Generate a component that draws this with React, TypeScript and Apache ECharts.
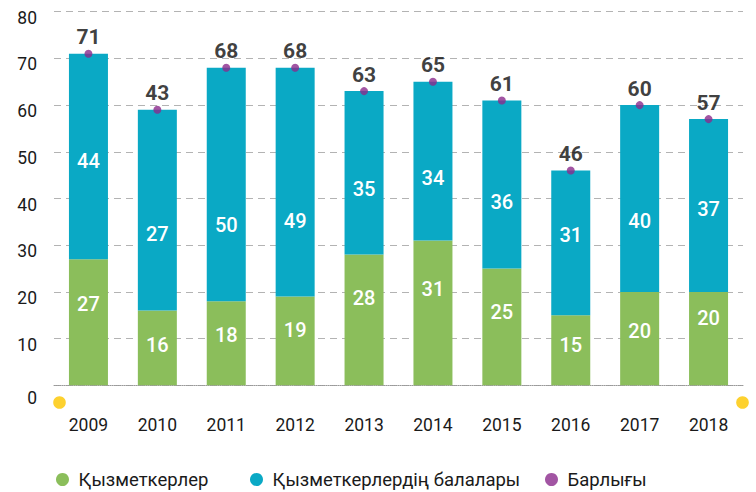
import React, { useEffect, useRef } from "react";
import * as echarts from "echarts";

const years = ["2009", "2010", "2011", "2012", "2013", "2014", "2015", "2016", "2017", "2018"];
const staff = [27, 16, 18, 19, 28, 31, 25, 15, 20, 20];
const childrenBar = [44, 43, 50, 49, 35, 34, 36, 31, 40, 37];
const childrenLabel = [44, 27, 50, 49, 35, 34, 36, 31, 40, 37];
const totalLabel = [71, 43, 68, 68, 63, 65, 61, 46, 60, 57];
const yTicks = [0, 10, 20, 30, 40, 50, 60, 70, 80];
const seriesNames = ["Қызметкерлер", "Қызметкерлердің балалары", "Барлығы"];

// label nudges (pixels) to mimic the reference's label placement
const staffLabelShift = [-18, -3, -8, -11, -22, -24, -15, -5, -8, -21];
const childLabelShift = [5, 24, 41, 39, 16, 17, 18, -8, 22, 3];

const GREEN = "#8BBE5B";
const CYAN = "#0AA9C5";
const PURPLE = "#8B2B8C";
const YELLOW = "#FDD12F";
const FONT = "Roboto";

export default function App() {
  const ref = useRef<HTMLDivElement>(null);
  useEffect(() => {
    if (!ref.current) return;
    const chart = echarts.init(ref.current, null, { renderer: "svg" });
    const totalsPos = staff.map((v, i) => v + childrenBar[i]);
    const legendText = { fontSize: 18.5, color: "#1a1a1a", fontFamily: FONT };
    chart.setOption({
      animation: false,
      textStyle: { fontFamily: FONT },
      grid: { left: 54, right: 13, top: 11.7, bottom: 106.7, containLabel: false },
      legend: [
        { data: [seriesNames[0]], left: 51, top: 465, icon: "circle", itemWidth: 22, itemHeight: 13, textStyle: legendText },
        { data: [seriesNames[1]], left: 245, top: 465, icon: "circle", itemWidth: 22, itemHeight: 13, textStyle: legendText },
        { data: [seriesNames[2]], left: 540, top: 465, icon: "circle", itemWidth: 22, itemHeight: 13, textStyle: legendText },
      ],
      xAxis: {
        type: "category",
        data: years,
        offset: 17,
        axisLine: { show: true, lineStyle: { color: "#999", type: "dotted", width: 1 } },
        axisTick: { show: false },
        axisLabel: { fontSize: 17.5, color: "#1a1a1a", margin: 14, fontFamily: FONT },
      },
      yAxis: {
        type: "value",
        min: yTicks[0],
        max: yTicks[yTicks.length - 1],
        interval: yTicks[1] - yTicks[0],
        axisLine: { show: false },
        axisTick: { show: false },
        splitLine: { lineStyle: { color: "#b3b3b3", type: [7, 5], width: 1 } },
        axisLabel: {
          margin: 17,
          color: "#1a1a1a",
          fontFamily: FONT,
          formatter: (v: number) => (v === 0 ? "{z|0}" : "{n|" + v + "}"),
          rich: {
            n: { fontSize: 17.5, color: "#1a1a1a", fontFamily: FONT, padding: [12, 0, 0, 0] },
            z: { fontSize: 17.5, color: "#1a1a1a", fontFamily: FONT, padding: [25, 0, 0, 0] },
          },
        },
      },
      graphic: [
        { type: "circle", shape: { cx: 59.5, cy: 402.5, r: 6.3 }, style: { fill: YELLOW }, z: 100 },
        { type: "circle", shape: { cx: 742.5, cy: 402.5, r: 6.3 }, style: { fill: YELLOW }, z: 100 },
      ],
      series: [
        {
          name: seriesNames[0],
          type: "bar",
          stack: "s",
          barWidth: 39,
          itemStyle: { color: GREEN },
          data: staff.map((v, i) => ({
            value: v,
            label: { offset: [0, staffLabelShift[i]] },
          })),
          label: {
            show: true,
            position: "inside",
            color: "#fff",
            fontSize: 20,
            fontWeight: 500,
            fontFamily: FONT,
          },
        },
        {
          name: seriesNames[1],
          type: "bar",
          stack: "s",
          barWidth: 39,
          itemStyle: { color: CYAN },
          data: childrenBar.map((v, i) => ({
            value: v,
            label: { offset: [0, childLabelShift[i]] },
          })),
          label: {
            show: true,
            position: "inside",
            color: "#fff",
            fontSize: 20,
            fontWeight: 500,
            fontFamily: FONT,
            formatter: (p: any) => String(childrenLabel[p.dataIndex]),
          },
        },
        {
          name: seriesNames[2],
          type: "scatter",
          symbol: "circle",
          symbolSize: 8,
          itemStyle: { color: PURPLE },
          z: 5,
          data: totalsPos,
          label: {
            show: true,
            position: "top",
            distance: 2,
            color: "#0d0d0d",
            fontSize: 21,
            fontWeight: "bold",
            fontFamily: FONT,
            formatter: (p: any) => String(totalLabel[p.dataIndex]),
          },
        },
      ],
    });
    return () => chart.dispose();
  }, []);
  return <div ref={ref} style={{ position: "absolute", left: 0, top: 0, width: 756, height: 492 }} />;
}
